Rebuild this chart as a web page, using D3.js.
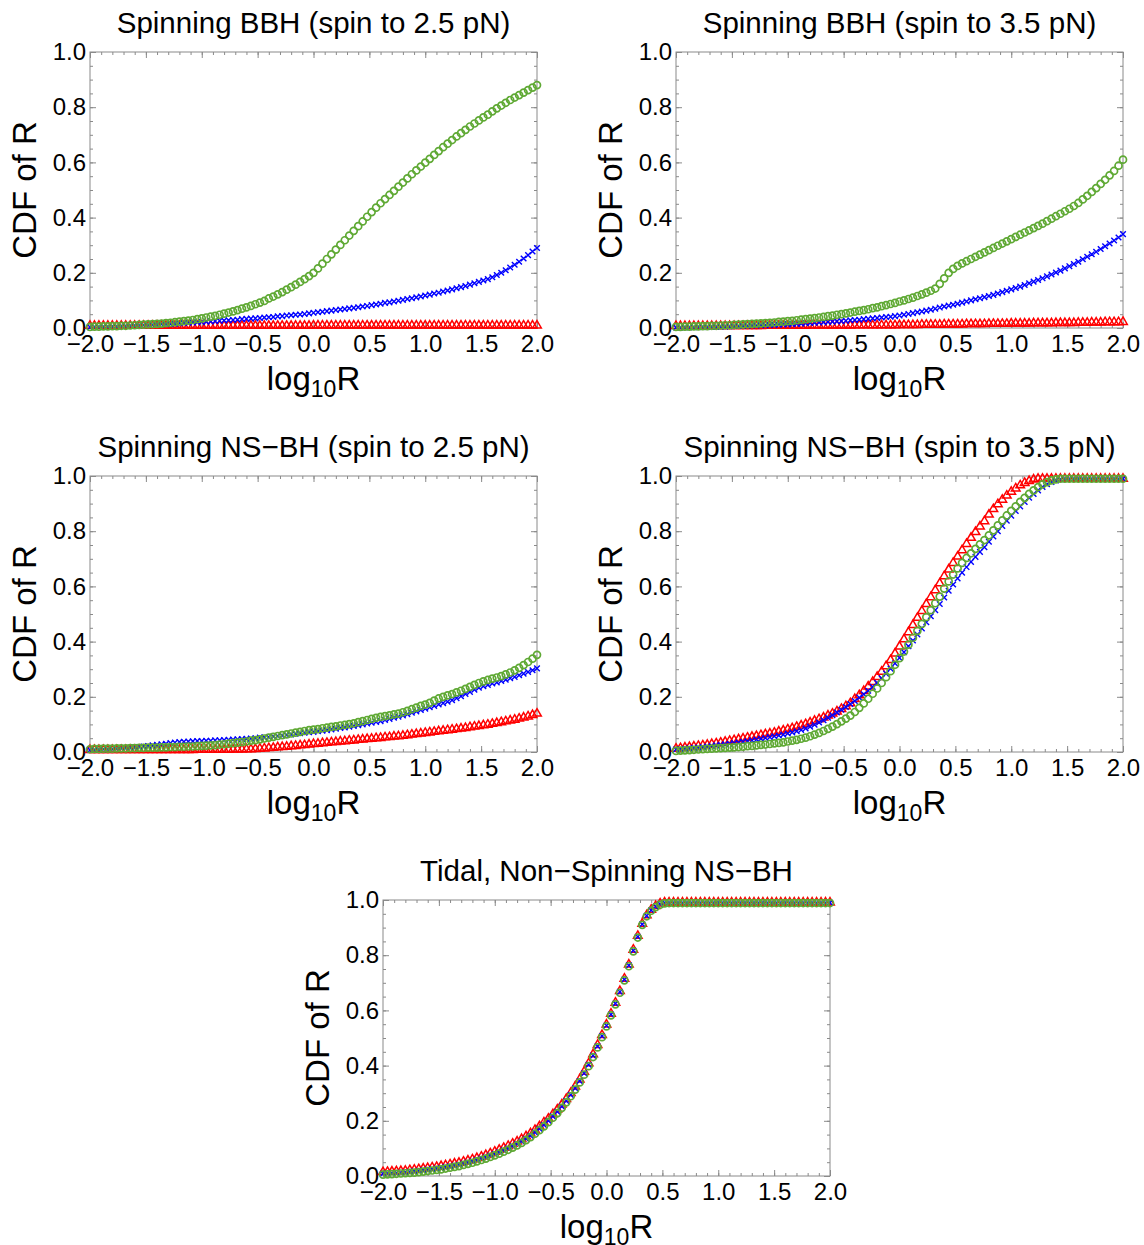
<!DOCTYPE html>
<html><head><meta charset="utf-8">
<script src="https://cdn.jsdelivr.net/npm/d3@7"></script>
<style>
body{margin:0;background:#fff}
svg{display:block}
text{font-family:"Liberation Sans",Arial,Helvetica,sans-serif}
</style>
</head><body>
<svg id="chart" width="1144" height="1245"></svg>
<script>
// ---------- data ----------
const xGrid = [
-2.00,-1.96,-1.92,-1.88,-1.84,-1.80,-1.76,-1.72,-1.68,-1.64,
-1.60,-1.56,-1.52,-1.48,-1.44,-1.40,-1.36,-1.32,-1.28,-1.24,
-1.20,-1.16,-1.12,-1.08,-1.04,-1.00,-0.96,-0.92,-0.88,-0.84,
-0.80,-0.76,-0.72,-0.68,-0.64,-0.60,-0.56,-0.52,-0.48,-0.44,
-0.40,-0.36,-0.32,-0.28,-0.24,-0.20,-0.16,-0.12,-0.08,-0.04,
0.00,0.04,0.08,0.12,0.16,0.20,0.24,0.28,0.32,0.36,
0.40,0.44,0.48,0.52,0.56,0.60,0.64,0.68,0.72,0.76,
0.80,0.84,0.88,0.92,0.96,1.00,1.04,1.08,1.12,1.16,
1.20,1.24,1.28,1.32,1.36,1.40,1.44,1.48,1.52,1.56,
1.60,1.64,1.68,1.72,1.76,1.80,1.84,1.88,1.92,1.96,
2.00];

const xMajorTicks = [-2.0,-1.5,-1.0,-0.5,0.0,0.5,1.0,1.5,2.0];
const yMajorTicks = [0.0,0.2,0.4,0.6,0.8,1.0];

// Spinning BBH (spin to 2.5 pN)
const bbh25Green = [
0.004,0.005,0.005,0.006,0.006,0.007,0.007,0.008,0.008,0.009,
0.010,0.011,0.012,0.013,0.014,0.015,0.016,0.018,0.019,0.021,
0.023,0.025,0.027,0.029,0.032,0.035,0.038,0.041,0.044,0.048,
0.052,0.056,0.060,0.065,0.070,0.075,0.080,0.086,0.092,0.098,
0.107,0.114,0.122,0.130,0.139,0.148,0.157,0.167,0.177,0.188,
0.200,0.216,0.233,0.250,0.267,0.284,0.301,0.318,0.335,0.352,
0.369,0.386,0.403,0.420,0.436,0.452,0.467,0.482,0.497,0.512,
0.527,0.542,0.557,0.571,0.585,0.599,0.613,0.627,0.641,0.655,
0.668,0.681,0.694,0.706,0.718,0.730,0.741,0.752,0.763,0.773,
0.785,0.796,0.806,0.816,0.826,0.835,0.844,0.853,0.862,0.871,
0.880];
const bbh25Blue = [
0.003,0.004,0.004,0.005,0.005,0.006,0.006,0.007,0.007,0.008,
0.009,0.010,0.011,0.011,0.012,0.013,0.014,0.014,0.015,0.016,
0.017,0.018,0.019,0.020,0.021,0.022,0.023,0.024,0.025,0.026,
0.027,0.028,0.029,0.030,0.032,0.033,0.034,0.035,0.036,0.038,
0.039,0.040,0.042,0.043,0.045,0.046,0.048,0.049,0.051,0.053,
0.055,0.057,0.059,0.061,0.063,0.065,0.067,0.069,0.071,0.073,
0.075,0.078,0.080,0.083,0.085,0.088,0.091,0.093,0.096,0.099,
0.102,0.105,0.108,0.111,0.114,0.118,0.121,0.125,0.128,0.132,
0.136,0.140,0.144,0.148,0.152,0.157,0.162,0.167,0.172,0.177,
0.184,0.192,0.200,0.209,0.219,0.229,0.240,0.252,0.264,0.277,
0.290];
const bbh25Red = [
0.008,0.008,0.008,0.008,0.008,0.008,0.008,0.008,0.008,0.008,
0.008,0.008,0.008,0.008,0.008,0.008,0.008,0.008,0.008,0.008,
0.008,0.008,0.008,0.008,0.008,0.008,0.008,0.008,0.008,0.008,
0.008,0.008,0.008,0.008,0.008,0.008,0.008,0.008,0.008,0.008,
0.008,0.008,0.008,0.008,0.008,0.008,0.008,0.008,0.008,0.008,
0.009,0.009,0.009,0.009,0.009,0.009,0.009,0.009,0.009,0.009,
0.009,0.009,0.009,0.009,0.009,0.009,0.009,0.009,0.009,0.009,
0.009,0.009,0.009,0.009,0.009,0.009,0.009,0.009,0.009,0.009,
0.009,0.009,0.009,0.009,0.009,0.009,0.009,0.009,0.009,0.009,
0.009,0.009,0.009,0.009,0.009,0.009,0.009,0.009,0.009,0.009,
0.009];

// Spinning BBH (spin to 3.5 pN)
const bbh35Green = [
0.004,0.004,0.005,0.005,0.006,0.006,0.007,0.007,0.008,0.008,
0.009,0.010,0.010,0.011,0.012,0.013,0.014,0.015,0.016,0.017,
0.018,0.019,0.020,0.022,0.023,0.025,0.026,0.028,0.030,0.032,
0.034,0.036,0.038,0.040,0.043,0.045,0.048,0.050,0.053,0.056,
0.059,0.062,0.065,0.068,0.072,0.075,0.079,0.083,0.087,0.091,
0.096,0.100,0.105,0.110,0.116,0.122,0.128,0.135,0.143,0.160,
0.180,0.200,0.214,0.225,0.234,0.242,0.250,0.258,0.266,0.274,
0.282,0.290,0.298,0.306,0.314,0.322,0.330,0.338,0.346,0.354,
0.362,0.370,0.378,0.387,0.396,0.405,0.414,0.423,0.432,0.442,
0.453,0.466,0.479,0.493,0.507,0.522,0.537,0.553,0.569,0.588,
0.610];
const bbh35Blue = [
0.002,0.002,0.003,0.003,0.003,0.004,0.004,0.004,0.005,0.005,
0.005,0.006,0.006,0.007,0.007,0.008,0.008,0.009,0.009,0.010,
0.010,0.011,0.011,0.012,0.013,0.013,0.014,0.015,0.016,0.017,
0.018,0.019,0.020,0.021,0.022,0.023,0.024,0.025,0.026,0.028,
0.029,0.030,0.032,0.033,0.035,0.036,0.038,0.040,0.041,0.043,
0.045,0.048,0.051,0.054,0.057,0.060,0.063,0.066,0.070,0.074,
0.078,0.081,0.084,0.088,0.092,0.096,0.100,0.104,0.108,0.112,
0.116,0.120,0.125,0.130,0.135,0.140,0.145,0.150,0.156,0.162,
0.168,0.174,0.180,0.187,0.194,0.201,0.208,0.216,0.224,0.232,
0.240,0.249,0.258,0.267,0.276,0.286,0.296,0.306,0.317,0.328,
0.340];
const bbh35Red = [
0.007,0.007,0.007,0.007,0.007,0.007,0.007,0.007,0.007,0.007,
0.007,0.007,0.007,0.007,0.007,0.007,0.007,0.007,0.007,0.007,
0.008,0.008,0.008,0.008,0.008,0.008,0.008,0.008,0.008,0.008,
0.009,0.009,0.009,0.009,0.009,0.009,0.009,0.009,0.009,0.009,
0.010,0.010,0.010,0.010,0.010,0.010,0.010,0.010,0.010,0.010,
0.011,0.011,0.011,0.011,0.011,0.012,0.012,0.012,0.012,0.012,
0.013,0.013,0.013,0.013,0.013,0.014,0.014,0.014,0.014,0.014,
0.015,0.015,0.015,0.015,0.015,0.016,0.016,0.016,0.016,0.016,
0.017,0.017,0.017,0.017,0.017,0.018,0.018,0.018,0.018,0.018,
0.019,0.019,0.019,0.020,0.020,0.020,0.021,0.021,0.021,0.021,
0.022];

// Spinning NS-BH (spin to 2.5 pN)
const nsbh25Green = [
0.010,0.011,0.011,0.012,0.012,0.012,0.013,0.013,0.013,0.014,
0.014,0.015,0.015,0.016,0.016,0.016,0.017,0.017,0.018,0.018,
0.019,0.019,0.020,0.020,0.021,0.022,0.023,0.024,0.025,0.027,
0.028,0.030,0.032,0.034,0.036,0.038,0.041,0.043,0.046,0.049,
0.052,0.055,0.058,0.061,0.064,0.067,0.070,0.073,0.076,0.079,
0.081,0.083,0.086,0.088,0.091,0.093,0.096,0.098,0.101,0.104,
0.108,0.112,0.116,0.120,0.124,0.127,0.130,0.133,0.136,0.139,
0.144,0.149,0.155,0.161,0.167,0.172,0.178,0.186,0.194,0.200,
0.205,0.210,0.216,0.222,0.229,0.236,0.243,0.250,0.256,0.261,
0.266,0.270,0.275,0.281,0.288,0.296,0.305,0.315,0.326,0.338,
0.352];
const nsbh25Blue = [
0.007,0.008,0.009,0.010,0.010,0.011,0.012,0.013,0.014,0.015,
0.016,0.018,0.020,0.022,0.024,0.026,0.028,0.030,0.032,0.034,
0.036,0.037,0.038,0.039,0.040,0.040,0.041,0.041,0.042,0.042,
0.043,0.044,0.045,0.046,0.047,0.048,0.049,0.050,0.052,0.053,
0.054,0.056,0.058,0.060,0.062,0.064,0.066,0.068,0.070,0.072,
0.073,0.075,0.077,0.079,0.082,0.084,0.087,0.089,0.092,0.094,
0.097,0.100,0.103,0.106,0.109,0.112,0.116,0.120,0.124,0.128,
0.132,0.137,0.142,0.147,0.152,0.157,0.162,0.167,0.172,0.177,
0.182,0.188,0.195,0.202,0.210,0.218,0.226,0.233,0.238,0.243,
0.248,0.252,0.257,0.262,0.267,0.272,0.278,0.284,0.290,0.296,
0.303];
const nsbh25Red = [
0.007,0.007,0.007,0.007,0.007,0.007,0.007,0.007,0.007,0.007,
0.007,0.007,0.007,0.007,0.007,0.007,0.007,0.007,0.007,0.007,
0.007,0.007,0.007,0.007,0.008,0.008,0.008,0.008,0.008,0.008,
0.008,0.008,0.009,0.009,0.009,0.010,0.010,0.011,0.012,0.013,
0.014,0.015,0.017,0.018,0.019,0.021,0.022,0.024,0.025,0.027,
0.029,0.030,0.032,0.033,0.035,0.036,0.038,0.039,0.041,0.042,
0.044,0.045,0.047,0.048,0.050,0.051,0.053,0.054,0.056,0.057,
0.059,0.061,0.063,0.065,0.067,0.069,0.071,0.073,0.075,0.077,
0.079,0.081,0.083,0.085,0.087,0.090,0.092,0.094,0.097,0.099,
0.102,0.105,0.108,0.111,0.114,0.117,0.121,0.125,0.129,0.134,
0.139];

// Spinning NS-BH (spin to 3.5 pN)
const nsbh35Green = [
0.004,0.005,0.006,0.007,0.008,0.009,0.010,0.011,0.012,0.013,
0.014,0.015,0.016,0.017,0.018,0.019,0.021,0.022,0.024,0.026,
0.027,0.029,0.031,0.033,0.035,0.038,0.041,0.044,0.048,0.052,
0.057,0.063,0.069,0.076,0.084,0.092,0.101,0.111,0.121,0.132,
0.145,0.160,0.176,0.193,0.211,0.230,0.250,0.271,0.293,0.316,
0.340,0.364,0.389,0.414,0.439,0.464,0.489,0.514,0.539,0.563,
0.592,0.618,0.643,0.665,0.685,0.703,0.720,0.736,0.752,0.768,
0.785,0.803,0.821,0.839,0.857,0.874,0.890,0.906,0.921,0.935,
0.948,0.960,0.970,0.978,0.984,0.988,0.990,0.990,0.990,0.990,
0.990,0.990,0.990,0.990,0.990,0.990,0.990,0.990,0.990,0.990,
0.990];
const nsbh35Blue = [
0.009,0.010,0.012,0.013,0.015,0.016,0.018,0.020,0.022,0.024,
0.026,0.028,0.030,0.032,0.034,0.037,0.039,0.042,0.045,0.048,
0.051,0.054,0.057,0.060,0.063,0.067,0.071,0.075,0.080,0.085,
0.092,0.099,0.107,0.115,0.124,0.133,0.143,0.153,0.163,0.174,
0.185,0.197,0.209,0.222,0.236,0.251,0.267,0.284,0.302,0.321,
0.341,0.362,0.383,0.404,0.426,0.448,0.470,0.492,0.514,0.536,
0.560,0.584,0.607,0.629,0.650,0.670,0.689,0.707,0.725,0.742,
0.762,0.781,0.800,0.819,0.838,0.856,0.873,0.890,0.906,0.921,
0.935,0.948,0.960,0.970,0.978,0.984,0.988,0.990,0.990,0.990,
0.990,0.990,0.990,0.990,0.990,0.990,0.990,0.990,0.990,0.990,
0.990];
const nsbh35Red = [
0.012,0.014,0.016,0.018,0.020,0.022,0.024,0.026,0.029,0.031,
0.034,0.037,0.040,0.043,0.046,0.049,0.052,0.055,0.058,0.061,
0.064,0.067,0.070,0.074,0.078,0.082,0.086,0.091,0.096,0.101,
0.107,0.113,0.119,0.125,0.132,0.139,0.147,0.156,0.166,0.177,
0.192,0.206,0.221,0.237,0.254,0.272,0.291,0.311,0.333,0.357,
0.382,0.408,0.434,0.460,0.486,0.511,0.536,0.561,0.586,0.611,
0.637,0.661,0.685,0.708,0.731,0.754,0.776,0.797,0.817,0.836,
0.860,0.880,0.898,0.914,0.929,0.943,0.955,0.966,0.975,0.982,
0.987,0.990,0.990,0.990,0.990,0.990,0.990,0.990,0.990,0.990,
0.990,0.990,0.990,0.990,0.990,0.990,0.990,0.990,0.990,0.990,
0.990];

// Tidal, Non-Spinning NS-BH
const tidalGreen = [
0.005,0.006,0.007,0.008,0.009,0.010,0.011,0.012,0.014,0.016,
0.018,0.020,0.022,0.024,0.027,0.030,0.033,0.036,0.040,0.044,
0.048,0.053,0.058,0.063,0.069,0.075,0.081,0.088,0.095,0.103,
0.111,0.120,0.130,0.141,0.153,0.166,0.180,0.195,0.211,0.228,
0.247,0.267,0.289,0.313,0.339,0.367,0.398,0.431,0.466,0.503,
0.542,0.582,0.622,0.664,0.709,0.760,0.814,0.864,0.910,0.941,
0.961,0.974,0.983,0.988,0.989,0.989,0.989,0.989,0.989,0.989,
0.989,0.989,0.989,0.989,0.989,0.989,0.989,0.989,0.989,0.989,
0.989,0.989,0.989,0.989,0.989,0.989,0.989,0.989,0.989,0.989,
0.989,0.989,0.989,0.989,0.989,0.989,0.989,0.989,0.989,0.989,
0.989];
const tidalBlue = [
0.008,0.009,0.010,0.011,0.012,0.013,0.015,0.017,0.019,0.021,
0.023,0.025,0.027,0.029,0.032,0.035,0.038,0.041,0.045,0.049,
0.053,0.058,0.063,0.068,0.074,0.080,0.086,0.093,0.100,0.108,
0.116,0.125,0.135,0.146,0.158,0.171,0.185,0.200,0.216,0.233,
0.252,0.272,0.294,0.318,0.344,0.372,0.403,0.436,0.470,0.507,
0.545,0.585,0.625,0.667,0.712,0.763,0.817,0.867,0.912,0.943,
0.963,0.976,0.985,0.990,0.990,0.990,0.990,0.990,0.990,0.990,
0.990,0.990,0.990,0.990,0.990,0.990,0.990,0.990,0.990,0.990,
0.990,0.990,0.990,0.990,0.990,0.990,0.990,0.990,0.990,0.990,
0.990,0.990,0.990,0.990,0.990,0.990,0.990,0.990,0.990,0.990,
0.990];
const tidalRed = [
0.014,0.015,0.016,0.017,0.018,0.019,0.021,0.023,0.025,0.027,
0.029,0.031,0.033,0.036,0.039,0.042,0.045,0.048,0.052,0.056,
0.060,0.065,0.070,0.076,0.082,0.088,0.095,0.102,0.109,0.117,
0.125,0.134,0.144,0.155,0.167,0.180,0.194,0.208,0.224,0.241,
0.259,0.279,0.301,0.324,0.350,0.378,0.408,0.441,0.475,0.511,
0.549,0.588,0.628,0.670,0.715,0.766,0.820,0.870,0.914,0.945,
0.965,0.978,0.987,0.991,0.991,0.991,0.991,0.991,0.991,0.991,
0.991,0.991,0.991,0.991,0.991,0.991,0.991,0.991,0.991,0.991,
0.991,0.991,0.991,0.991,0.991,0.991,0.991,0.991,0.991,0.991,
0.991,0.991,0.991,0.991,0.991,0.991,0.991,0.991,0.991,0.991,
0.991];

const panelTitles = [
  "Spinning BBH (spin to 2.5 pN)",
  "Spinning BBH (spin to 3.5 pN)",
  "Spinning NS\u2212BH (spin to 2.5 pN)",
  "Spinning NS\u2212BH (spin to 3.5 pN)",
  "Tidal, Non\u2212Spinning NS\u2212BH"
];
const panelRed   = [bbh25Red, bbh35Red, nsbh25Red, nsbh35Red, tidalRed];
const panelBlue  = [bbh25Blue, bbh35Blue, nsbh25Blue, nsbh35Blue, tidalBlue];
const panelGreen = [bbh25Green, bbh35Green, nsbh25Green, nsbh35Green, tidalGreen];

// ---------- layout ----------
const origins = [[90,52],[676,52],[90,476],[676,476],[383,900]];
const W = 447, H = 276;
const COL_RED = "#ff0000", COL_BLUE = "#0000ff", COL_GREEN = "#5fa934";
const FRAME = "#8a8a8a";

const svg = d3.select("#chart");
const fmt = d3.format(".1f");
const xMinor = d3.range(-20, 21).map(v => v / 10);
const yMinor = d3.range(0, 21).map(v => v / 20);

panelTitles.forEach((title, k) => {
  const [ox, oy] = origins[k];
  const g = svg.append("g").attr("transform", `translate(${ox},${oy})`);
  const x = d3.scaleLinear().domain([-2, 2]).range([0, W]);
  const y = d3.scaleLinear().domain([0, 1]).range([H, 0]);

  const axes = [
    [d3.axisBottom(x).tickValues(xMinor).tickSize(-3).tickFormat(""), `translate(0,${H})`],
    [d3.axisTop(x).tickValues(xMinor).tickSize(-3).tickFormat(""), `translate(0,0)`],
    [d3.axisLeft(y).tickValues(yMinor).tickSize(-3).tickFormat(""), `translate(0,0)`],
    [d3.axisRight(y).tickValues(yMinor).tickSize(-3).tickFormat(""), `translate(${W},0)`],
    [d3.axisTop(x).tickValues(xMajorTicks).tickSize(-6).tickFormat(""), `translate(0,0)`],
    [d3.axisRight(y).tickValues(yMajorTicks).tickSize(-6).tickFormat(""), `translate(${W},0)`],
    [d3.axisBottom(x).tickValues(xMajorTicks).tickSize(-6).tickPadding(7).tickFormat(fmt), `translate(0,${H})`],
    [d3.axisLeft(y).tickValues(yMajorTicks).tickSize(-6).tickPadding(4).tickFormat(fmt), `translate(0,0)`]
  ];
  axes.forEach(([ax, tr]) => {
    const a = g.append("g").attr("transform", tr).call(ax);
    a.select(".domain").remove();
    a.selectAll(".tick line").attr("stroke", FRAME).attr("stroke-width", 1);
    a.selectAll("text").attr("font-size", 24).attr("fill", "#000")
      .attr("font-family", '"Liberation Sans", Arial, sans-serif');
  });

  g.append("rect").attr("width", W).attr("height", H)
    .attr("fill", "none").attr("stroke", FRAME).attr("stroke-width", 1);

  const pts = (arr) => xGrid.map((xv, i) => ({ x: xv, y: arr[i] }));

  // red triangles
  g.append("g").selectAll("path").data(pts(panelRed[k])).join("path")
    .attr("transform", d => `translate(${x(d.x)},${y(d.y)})`)
    .attr("d", d3.symbol(d3.symbolTriangle, 32)())
    .attr("fill", "none").attr("stroke", COL_RED).attr("stroke-width", 1.5);
  // blue crosses
  g.append("g").selectAll("path").data(pts(panelBlue[k])).join("path")
    .attr("transform", d => `translate(${x(d.x)},${y(d.y)})`)
    .attr("d", "M-2.8,-2.8L2.8,2.8M-2.8,2.8L2.8,-2.8")
    .attr("fill", "none").attr("stroke", COL_BLUE).attr("stroke-width", 1.4);
  // green circles
  g.append("g").selectAll("circle").data(pts(panelGreen[k])).join("circle")
    .attr("cx", d => x(d.x)).attr("cy", d => y(d.y)).attr("r", 3.5)
    .attr("fill", "none").attr("stroke", COL_GREEN).attr("stroke-width", 1.7);

  // title
  g.append("text").attr("x", W / 2).attr("y", -19).attr("text-anchor", "middle")
    .attr("font-size", 29.5).attr("fill", "#000").text(title);

  // x label
  const xl = g.append("text").attr("x", W / 2).attr("y", H + 62)
    .attr("text-anchor", "middle").attr("font-size", 33).attr("fill", "#000");
  xl.append("tspan").text("log");
  xl.append("tspan").attr("dy", 7).attr("font-size", 23).text("10");
  xl.append("tspan").attr("dy", -7).text("R");

  // y label
  g.append("text").attr("transform", `translate(-54,${H / 2}) rotate(-90)`)
    .attr("text-anchor", "middle").attr("font-size", 33).attr("fill", "#000")
    .text("CDF of R");
});
</script>
</body></html>
